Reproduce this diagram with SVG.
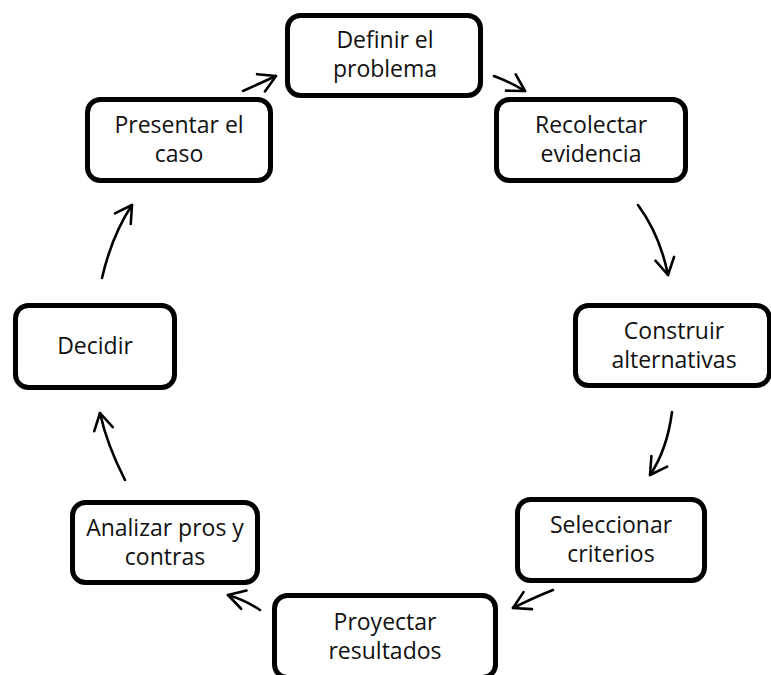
<svg xmlns="http://www.w3.org/2000/svg" width="771" height="675" viewBox="0 0 771 675">
<style>
.box{fill:#fff;stroke:#000;stroke-width:5}
.lbl{font-family:"Open Sans","Liberation Sans",sans-serif;font-size:23px;fill:#111;text-anchor:middle}
.arr{fill:none;stroke:#000;stroke-width:2.6;stroke-linecap:round;marker-end:url(#v)}
</style>
<defs>
<marker id="v" markerUnits="userSpaceOnUse" markerWidth="40" markerHeight="40" refX="0" refY="0" viewBox="-20 -20 40 40" orient="auto" overflow="visible">
<path d="M-16.5,-9.5 L0,0 L-16.5,9.5" fill="none" stroke="#000" stroke-width="2.6" stroke-linecap="round" stroke-linejoin="round"/>
</marker>
</defs>
<rect width="771" height="675" fill="#fff"/>
<g id="connectors">
<path class="arr" d="M243,91 L276,76"/>
<path class="arr" d="M494,76 Q510,82 525,91"/>
<path class="arr" d="M638,205 Q660,235 668,275"/>
<path class="arr" d="M672,412 Q667,450 650,475"/>
<path class="arr" d="M553,590 Q535,597 513,608"/>
<path class="arr" d="M260,610 Q245,600 228,595"/>
<path class="arr" d="M125,480 Q107,445 100,413"/>
<path class="arr" d="M102,278 Q112,235 132,205"/>
</g>
<g id="n1"><rect class="box" x="287.5" y="15.5" width="193" height="80" rx="13"/><text class="lbl" x="385" y="48">Definir el<tspan x="385" dy="29">problema</tspan></text></g>
<g id="n2"><rect class="box" x="496.5" y="99.5" width="189" height="81" rx="13"/><text class="lbl" x="591" y="133">Recolectar<tspan x="591" dy="29">evidencia</tspan></text></g>
<g id="n3"><rect class="box" x="575.5" y="305.5" width="194" height="80" rx="13"/><text class="lbl" x="674" y="339">Construir<tspan x="674" dy="29">alternativas</tspan></text></g>
<g id="n4"><rect class="box" x="517.5" y="499.5" width="187" height="81" rx="13"/><text class="lbl" x="611" y="533">Seleccionar<tspan x="611" dy="29">criterios</tspan></text></g>
<g id="n5"><rect class="box" x="274.5" y="595.5" width="221" height="82" rx="13"/><text class="lbl" x="385" y="630">Proyectar<tspan x="385" dy="29">resultados</tspan></text></g>
<g id="n6"><rect class="box" x="72.5" y="502.5" width="185" height="80" rx="13"/><text class="lbl" x="165" y="536">Analizar pros y<tspan x="165" dy="29">contras</tspan></text></g>
<g id="n7"><rect class="box" x="15.5" y="305.5" width="159" height="82" rx="13"/><text class="lbl" x="95" y="354">Decidir</text></g>
<g id="n8"><rect class="box" x="87.5" y="99.5" width="183" height="81" rx="13"/><text class="lbl" x="179" y="133">Presentar el<tspan x="179" dy="29">caso</tspan></text></g>
</svg>
